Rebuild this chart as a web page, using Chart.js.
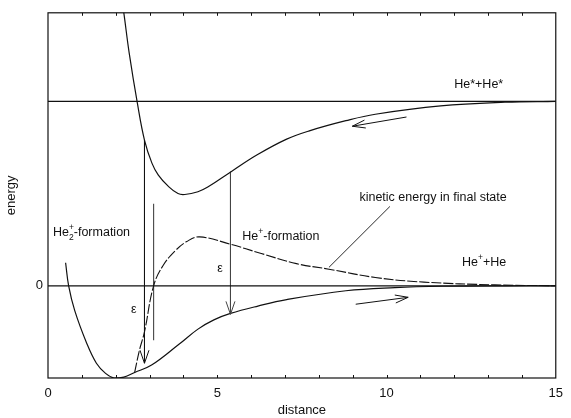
<!DOCTYPE html>
<html>
<head>
<meta charset="utf-8">
<script src="https://cdn.jsdelivr.net/npm/chart.js@4/dist/chart.umd.min.js"></script>
<style>
  html, body { margin: 0; padding: 0; background: #fff; }
  canvas { display: block; }
</style>
</head>
<body>
<canvas id="chart" width="571" height="418"></canvas>
<script>
const xTicks = [0, 5, 10, 15];
const yTicks = [0];

// He* + He* potential
const upperX = [2.18, 2.24, 2.4, 2.64, 2.85, 3.07, 3.26, 3.55, 3.84, 4.04, 4.43, 4.72, 5.42, 6.18, 7.05, 7.72, 8.8, 9.67, 11.6, 13.5, 15];
const upperE = [3.1, 2.96, 2.52, 1.98, 1.58, 1.33, 1.2, 1.08, 1.0, 0.99, 1.02, 1.07, 1.24, 1.42, 1.59, 1.68, 1.79, 1.86, 1.95, 1.99, 2.0];

// He+ + He potential (He2+ well)
const lowerX = [0.52, 0.61, 0.79, 1.14, 1.43, 1.7, 1.95, 2.24, 2.56, 3.06, 3.85, 4.43, 4.9, 5.39, 6.2, 7.05, 8.8, 10.25, 11.7, 13.5, 15];
const lowerE = [0.25, 0.0, -0.27, -0.62, -0.84, -0.95, -1.0, -0.99, -0.94, -0.86, -0.64, -0.47, -0.37, -0.3, -0.22, -0.15, -0.054, -0.02, -0.005, 0, 0];

// kinetic energy in final state (dashed)
const kineticX = [2.56, 2.7, 2.85, 3.12, 3.4, 3.76, 4.1, 4.48, 5.39, 6.3, 7.34, 8.3, 9.67, 11.1, 13.2, 15];
const kineticE = [-0.94, -0.7, -0.5, 0.0, 0.22, 0.38, 0.48, 0.53, 0.45, 0.35, 0.24, 0.18, 0.09, 0.04, 0.01, 0];

// asymptotic levels
const levelE = [2.0, 0.0];
const levelRange = [0, 15];

// vertical transitions (epsilon arrows) and the plain marker line
const arrowX = [2.85, 5.39];
const arrowTop = [1.58, 1.24];
const arrowTip = [-0.84, -0.31];
const markX = 3.12;
const markRange = [0.89, -0.59];

// small direction arrows [x, E]
const flowFrom = [[10.59, 1.83], [9.09, -0.2]];
const flowTo = [[8.99, 1.73], [10.64, -0.125]];

// leader from label to dashed curve
const leader = [[8.3, 0.2], [10.1, 0.86]];

const pts = (xs, ys) => xs.map((x, i) => ({ x: x, y: ys[i] }));

const ink = '#111';
Chart.defaults.font.family = '"Liberation Sans", Arial, sans-serif';
Chart.defaults.color = ink;

const datasets = [
  { data: pts(upperX, upperE), borderColor: ink, borderWidth: 1.2, tension: 0.4 },
  { data: pts(lowerX, lowerE), borderColor: ink, borderWidth: 1.2, tension: 0.4 },
  { data: pts(kineticX, kineticE), borderColor: ink, borderWidth: 1.1, borderDash: [10, 2], tension: 0.4 }
];
levelE.forEach(e => {
  datasets.push({ data: pts(levelRange, [e, e]), borderColor: ink, borderWidth: 1.2 });
});
arrowX.forEach((x, i) => {
  datasets.push({ data: pts([x, x], [arrowTop[i], arrowTip[i]]), borderColor: i ? '#444' : ink, borderWidth: 1.1 });
});
datasets.push({ data: pts([markX, markX], markRange), borderColor: '#444', borderWidth: 1.1 });
flowFrom.forEach((p, i) => {
  datasets.push({ data: [{ x: p[0], y: p[1] }, { x: flowTo[i][0], y: flowTo[i][1] }], borderColor: ink, borderWidth: 1 });
});
datasets.push({ data: leader.map(p => ({ x: p[0], y: p[1] })), borderColor: ink, borderWidth: 0.9 });

function head(ctx, fx, fy, tx, ty, len, half) {
  const a = Math.atan2(ty - fy, tx - fx);
  const c = Math.cos(a), s = Math.sin(a);
  ctx.beginPath();
  ctx.moveTo(tx - len * c + half * s, ty - len * s - half * c);
  ctx.lineTo(tx, ty);
  ctx.lineTo(tx - len * c - half * s, ty - len * s + half * c);
  ctx.stroke();
}

const labels = [
  { text: 'He*+He*', x: 12.0, y: 2.18 },
  { text: 'kinetic energy in final state', x: 9.2, y: 0.96 },
  { text: 'ε', x: 2.45, y: -0.26 },
  { text: 'ε', x: 5.0, y: 0.19 }
];

const decor = {
  id: 'decor',
  afterDatasetsDraw(chart) {
    const { ctx, chartArea: a, scales } = chart;
    const px = v => scales.x.getPixelForValue(v);
    const py = v => scales.y.getPixelForValue(v);
    ctx.save();
    ctx.strokeStyle = ink;
    ctx.lineWidth = 1.2;
    ctx.strokeRect(a.left, a.top, a.right - a.left, a.bottom - a.top);
    ctx.lineWidth = 1;
    for (let v = 1; v < 15; v++) {
      const x = Math.round(px(v)) + 0.5;
      ctx.beginPath();
      ctx.moveTo(x, a.bottom); ctx.lineTo(x, a.bottom - 3);
      ctx.moveTo(x, a.top); ctx.lineTo(x, a.top + 3);
      ctx.stroke();
    }
    // arrow heads
    arrowX.forEach((x, i) => {
      ctx.strokeStyle = i ? '#444' : ink;
      head(ctx, px(x), py(arrowTop[i]), px(x), py(arrowTip[i]), 13, 4.5);
    });
    ctx.strokeStyle = ink;
    flowFrom.forEach((p, i) => {
      head(ctx, px(p[0]), py(p[1]), px(flowTo[i][0]), py(flowTo[i][1]), 13, 4);
    });
    // text
    ctx.fillStyle = ink;
    ctx.textBaseline = 'middle';
    ctx.textAlign = 'left';
    const big = '12.5px "Liberation Sans", Arial, sans-serif';
    const small = '8.5px "Liberation Sans", Arial, sans-serif';
    ctx.font = big;
    labels.forEach(l => ctx.fillText(l.text, px(l.x), py(l.y)));

    // He+-formation
    let x = px(5.74), y = py(0.53);
    ctx.fillText('He', x, y); x += ctx.measureText('He').width;
    ctx.font = small; ctx.fillText('+', x, y - 5); x += ctx.measureText('+').width;
    ctx.font = big; ctx.fillText('-formation', x, y);

    // He2+-formation
    x = px(0.15); y = py(0.58);
    ctx.fillText('He', x, y); x += ctx.measureText('He').width;
    ctx.font = small; ctx.fillText('+', x, y - 5); ctx.fillText('2', x, y + 5); x += ctx.measureText('2').width;
    ctx.font = big; ctx.fillText('-formation', x, y);

    // He+ + He
    x = px(12.23); y = py(0.25);
    ctx.fillText('He', x, y); x += ctx.measureText('He').width;
    ctx.font = small; ctx.fillText('+', x, y - 5); x += ctx.measureText('+').width;
    ctx.font = big; ctx.fillText('+He', x, y);
    ctx.restore();
  }
};

new Chart(document.getElementById('chart'), {
  type: 'line',
  data: { datasets: datasets },
  options: {
    responsive: false,
    animation: false,
    events: [],
    layout: { padding: { top: 10, right: 8, left: 0, bottom: 0 } },
    elements: { point: { radius: 0 }, line: { tension: 0, fill: false } },
    plugins: { legend: { display: false }, tooltip: { enabled: false } },
    scales: {
      x: {
        type: 'linear', min: 0, max: 15,
        grid: { display: false, drawTicks: false },
        border: { display: false },
        afterBuildTicks: s => { s.ticks = xTicks.map(v => ({ value: v })); },
        afterFit: s => { s.height = 40; },
        ticks: { padding: 8, font: { size: 13 }, maxRotation: 0, autoSkip: false },
        title: { display: true, text: 'distance', font: { size: 13 }, padding: { top: 0, bottom: 0 } }
      },
      y: {
        type: 'linear', min: -1, max: 2.96,
        grid: { display: false, drawTicks: false },
        border: { display: false },
        afterBuildTicks: s => { s.ticks = yTicks.map(v => ({ value: v })); },
        afterFit: s => { s.width = 48; },
        ticks: { padding: 5, font: { size: 13 }, autoSkip: false },
        title: { display: true, text: 'energy', font: { size: 13 }, padding: { top: 4, bottom: 0 } }
      }
    }
  },
  plugins: [decor]
});
</script>
</body>
</html>
